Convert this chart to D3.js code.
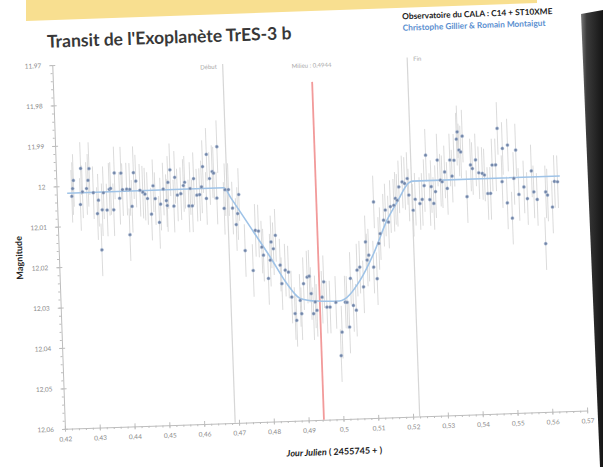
<!DOCTYPE html>
<html>
<head>
<meta charset="utf-8">
<script src="https://cdn.jsdelivr.net/npm/d3@7"></script>
<style>
  html, body { margin: 0; padding: 0; background: #ffffff; }
  svg { display: block; }
</style>
</head>
<body>
<svg id="chart" width="603" height="467"></svg>
<script>
// Observation times (JD - 2455745)
const times = [
  0.4243, 0.4246, 0.4249, 0.4267, 0.4271, 0.4274, 0.4286, 0.4291, 0.4295, 0.4305,
  0.4315, 0.4319, 0.4324, 0.4329, 0.4334, 0.4343, 0.4351, 0.4355, 0.4362, 0.4367,
  0.4380, 0.4386, 0.4389, 0.4401, 0.4406, 0.4410, 0.4415, 0.4422, 0.4428, 0.4439,
  0.4447, 0.4453, 0.4460, 0.4470, 0.4477, 0.4482, 0.4492, 0.4497, 0.4506, 0.4514,
  0.4516, 0.4520, 0.4527, 0.4535, 0.4540, 0.4546, 0.4556, 0.4564, 0.4568, 0.4578,
  0.4583, 0.4588, 0.4594, 0.4602, 0.4610, 0.4616, 0.4621, 0.4629, 0.4633, 0.4640,
  0.4648, 0.4652, 0.4659, 0.4664, 0.4679, 0.4683, 0.4693, 0.4703, 0.4712, 0.4717,
  0.4722, 0.4735, 0.4756, 0.4766, 0.4775, 0.4783, 0.4787, 0.4799, 0.4806, 0.4810,
  0.4816, 0.4823, 0.4834, 0.4837, 0.4848, 0.4857, 0.4864, 0.4872, 0.4876, 0.4888,
  0.4891, 0.4899, 0.4910, 0.4916, 0.4920, 0.4925, 0.4931, 0.4935, 0.4951, 0.4957,
  0.4964, 0.4973, 0.4990, 0.5000, 0.5005, 0.5017, 0.5022, 0.5027, 0.5034, 0.5040,
  0.5048, 0.5054, 0.5062, 0.5071, 0.5081, 0.5084, 0.5089, 0.5102, 0.5108, 0.5111,
  0.5119, 0.5124, 0.5135, 0.5141, 0.5149, 0.5156, 0.5166, 0.5171, 0.5176, 0.5182,
  0.5192, 0.5199, 0.5207, 0.5210, 0.5221, 0.5228, 0.5241, 0.5248, 0.5255, 0.5262,
  0.5270, 0.5275, 0.5281, 0.5287, 0.5295, 0.5302, 0.5307, 0.5315, 0.5321, 0.5331,
  0.5336, 0.5343, 0.5352, 0.5355, 0.5358, 0.5363, 0.5369, 0.5377, 0.5390, 0.5395,
  0.5405, 0.5413, 0.5423, 0.5429, 0.5437, 0.5445, 0.5452, 0.5462, 0.5470, 0.5479,
  0.5483, 0.5492, 0.5498, 0.5505, 0.5513, 0.5521, 0.5526, 0.5541, 0.5550, 0.5564,
  0.5569, 0.5578, 0.5598, 0.5603, 0.5608, 0.5621, 0.5629, 0.5638
];

// Measured magnitudes
const mags = [
  12.0026, 12.0007, 11.9987, 12.0047, 11.9958, 12.0016, 12.0008, 11.9988, 11.9959, 12.0019,
  12.0071, 12.0038, 12.0161, 12.0062, 12.0020, 12.0063, 12.0012, 12.0010, 12.0063, 11.9972,
  12.0035, 11.9973, 12.0014, 12.0013, 12.0126, 12.0014, 12.0056, 11.9973, 11.9994, 12.0017,
  12.0022, 12.0027, 12.0038, 12.0077, 12.0007, 12.0039, 12.0098, 12.0053, 12.0016, 12.0045,
  12.0057, 12.0000, 11.9969, 12.0059, 11.9988, 12.0032, 12.0029, 12.0009, 12.0001, 12.0060,
  12.0017, 12.0060, 11.9993, 12.0034, 12.0033, 12.0014, 11.9964, 12.0043, 11.9934, 11.9994,
  11.9977, 11.9981, 12.0043, 11.9916, 12.0069, 12.0023, 12.0023, 12.0069, 12.0110, 12.0083,
  12.0036, 12.0175, 12.0225, 12.0126, 12.0128, 12.0168, 12.0188, 12.0246, 12.0201, 12.0156,
  12.0173, 12.0140, 12.0214, 12.0260, 12.0227, 12.0232, 12.0294, 12.0335, 12.0352, 12.0303,
  12.0336, 12.0262, 12.0246, 12.0244, 12.0287, 12.0337, 12.0308, 12.0329, 12.0297, 12.0259,
  12.0322, 12.0322, 12.0311, 12.0443, 12.0385, 12.0311, 12.0312, 12.0373, 12.0253, 12.0320,
  12.0332, 12.0233, 12.0226, 12.0275, 12.0164, 12.0209, 12.0197, 12.0227, 12.0066, 12.0256,
  12.0169, 12.0145, 12.0112, 12.0087, 12.0117, 12.0079, 12.0076, 12.0059, 12.0064, 12.0031,
  12.0019, 12.0023, 12.0011, 12.0052, 12.0090, 12.0063, 12.0074, 12.0064, 12.0030, 11.9955,
  12.0065, 12.0033, 12.0075, 12.0046, 11.9968, 12.0018, 12.0022, 11.9998, 12.0039, 11.9969,
  12.0009, 11.9970, 11.9918, 11.9900, 11.9945, 11.9950, 11.9911, 12.0061, 11.9983, 11.9992,
  11.9971, 12.0003, 12.0005, 12.0009, 12.0055, 12.0055, 11.9985, 11.9985, 11.9895, 12.0027,
  11.9945, 12.0080, 11.9937, 12.0118, 12.0020, 11.9950, 12.0060, 12.0042, 12.0071, 12.0003,
  12.0055, 12.0074, 12.0184, 12.0056, 12.0064, 12.0094, 12.0031, 12.0032
];

// Photometric uncertainty on each measurement (mag)
const magError = 0.0065;

// Transit model curve (read at its turning points)
const fitTimes = [0.4230, 0.4680, 0.4700, 0.4761, 0.4806, 0.4851, 0.4888, 0.4936, 0.5000,
                  0.5062, 0.5103, 0.5145, 0.5176, 0.5211, 0.5222, 0.5645];
const fitMags  = [12.0018, 12.0018, 12.0045, 12.0130, 12.0193, 12.0260, 12.0298, 12.0306, 12.0308,
                  12.0258, 12.0194, 12.0112, 12.0068, 12.0022, 12.0018, 12.0018];

// Contact markers
const markerNames = ["Début", "Milieu : 0,4944", "Fin"];
const markerTimes = [0.4689, 0.4944, 0.5219];

// Axes
const xTicks = [0.42, 0.43, 0.44, 0.45, 0.46, 0.47, 0.48, 0.49, 0.50, 0.51, 0.52, 0.53, 0.54, 0.55, 0.56, 0.57];
const xTickLabels = ["0,42", "0,43", "0,44", "0,45", "0,46", "0,47", "0,48", "0,49", "0,5", "0,51", "0,52", "0,53", "0,54", "0,55", "0,56", "0,57"];
const yTicks = [11.97, 11.98, 11.99, 12.00, 12.01, 12.02, 12.03, 12.04, 12.05, 12.06];
const yTickLabels = ["11,97", "11,98", "11,99", "12", "12,01", "12,02", "12,03", "12,04", "12,05", "12,06"];

const titleText = "Transit de l'Exoplanète TrES-3 b";
const creditLine1 = "Observatoire du CALA : C14 + ST10XME";
const creditLine2 = "Christophe Gillier & Romain Montaigut";
const xTitle = "Jour Julien ( 2455745 + )";
const yTitle = "Magnitude";

const FONT = "Lato, 'Open Sans', sans-serif";
const svg = d3.select("#chart");

// printed sheet backdrop
const defs = svg.append("defs");
const grad = defs.append("linearGradient").attr("id", "edgeShade")
  .attr("gradientUnits", "userSpaceOnUse").attr("x1", 578).attr("y1", 0).attr("x2", 603).attr("y2", 0);
grad.append("stop").attr("offset", 0).attr("stop-color", "#9a9a9a");
grad.append("stop").attr("offset", 0.35).attr("stop-color", "#3a3a3a");
grad.append("stop").attr("offset", 1).attr("stop-color", "#151515");

svg.append("rect").attr("width", 603).attr("height", 467).attr("fill", "#ffffff");
svg.append("polygon").attr("points", "26,0 537,0 537,3 26,21").attr("fill", "#f8df90");
svg.append("polygon").attr("points", "581,14 603,10 603,467 600,467").attr("fill", "url(#edgeShade)");

// chart body, slightly turned
const g = svg.append("g").attr("transform", "rotate(-2, 300, 240)");

const x = d3.scaleLinear().domain([0.42, 0.57]).range([58.5, 581]);
const y = d3.scaleLinear().domain([11.97, 12.06]).range([56.5, 420.5]);

// title and credits
g.append("text").attr("x", 54).attr("y", 39)
  .attr("font-family", FONT).attr("font-weight", 700).attr("font-size", 17.5)
  .attr("fill", "#383838").text(titleText);
g.append("text").attr("x", 410).attr("y", 23)
  .attr("font-family", FONT).attr("font-weight", 700).attr("font-size", 8.3)
  .attr("fill", "#222").text(creditLine1);
g.append("text").attr("x", 410).attr("y", 34.5)
  .attr("font-family", FONT).attr("font-weight", 700).attr("font-size", 8.3)
  .attr("fill", "#5b8fd0").text(creditLine2);

// axes
const minorX = d3.range(0.42, 0.5701, 0.002);
const minorY = d3.range(11.97, 12.0601, 0.002);

const axisColor = "#bdbdbd";
const xAxisG = g.append("g").attr("transform", `translate(0,${y(12.06)})`);
xAxisG.append("g").call(d3.axisBottom(x).tickValues(minorX).tickSize(2).tickFormat(""))
  .call(a => a.selectAll("line").attr("stroke", axisColor))
  .call(a => a.select(".domain").remove());
xAxisG.append("g").call(d3.axisBottom(x).tickValues(xTicks).tickSizeInner(3).tickSizeOuter(0).tickPadding(5)
    .tickFormat((d, i) => xTickLabels[i]))
  .call(a => a.select(".domain").attr("stroke", axisColor))
  .call(a => a.selectAll("line").attr("stroke", axisColor).attr("y1", -3))
  .call(a => a.selectAll("text").attr("font-family", FONT).attr("font-size", 6.5).attr("fill", "#8a8a8a"));

const yAxisG = g.append("g").attr("transform", `translate(${x(0.42)},0)`);
yAxisG.append("g").call(d3.axisLeft(y).tickValues(minorY).tickSize(2).tickFormat(""))
  .call(a => a.selectAll("line").attr("stroke", axisColor))
  .call(a => a.select(".domain").remove());
yAxisG.append("g").call(d3.axisLeft(y).tickValues(yTicks).tickSizeInner(3).tickSizeOuter(0).tickPadding(8)
    .tickFormat((d, i) => yTickLabels[i]))
  .call(a => a.select(".domain").attr("stroke", axisColor))
  .call(a => a.selectAll("line").attr("stroke", axisColor).attr("x1", 3))
  .call(a => a.selectAll("text").attr("font-family", FONT).attr("font-size", 6.5).attr("fill", "#8a8a8a"));

// axis titles
g.append("text").attr("x", 327).attr("y", 456).attr("text-anchor", "middle")
  .attr("font-family", FONT).attr("font-weight", 700).attr("font-size", 9).attr("fill", "#222")
  .call(t => {
    t.append("tspan").attr("font-style", "italic").text(xTitle.slice(0, 11));
    t.append("tspan").text(xTitle.slice(11));
  });
g.append("text").attr("transform", "translate(22,248) rotate(-90)").attr("text-anchor", "middle")
  .attr("font-family", FONT).attr("font-weight", 700).attr("font-size", 9).attr("fill", "#222")
  .text(yTitle);

// contact markers
const markerColors = ["#d6d6d6", "#f29a9a", "#d6d6d6"];
const markerTops = [11.9712, 11.9764, 11.9712];
markerTimes.forEach((t, i) => {
  g.append("line").attr("x1", x(t)).attr("x2", x(t))
    .attr("y1", y(markerTops[i])).attr("y2", y(12.06))
    .attr("stroke", markerColors[i]).attr("stroke-width", i === 1 ? 1.8 : 1.2);
});
g.append("text").attr("x", x(markerTimes[0]) - 6).attr("y", 66).attr("text-anchor", "end")
  .attr("font-family", FONT).attr("font-size", 6).attr("fill", "#a8a8a8").text(markerNames[0]);
g.append("text").attr("x", x(markerTimes[1])).attr("y", 68).attr("text-anchor", "middle")
  .attr("font-family", FONT).attr("font-size", 6).attr("fill", "#a8a8a8").text(markerNames[1]);
g.append("text").attr("x", x(markerTimes[2]) + 6).attr("y", 65).attr("text-anchor", "start")
  .attr("font-family", FONT).attr("font-size", 6).attr("fill", "#a8a8a8").text(markerNames[2]);

// error bars
const pts = times.map((t, i) => ({ t, m: mags[i] }));
g.append("g").selectAll("line").data(pts).join("line")
  .attr("x1", d => x(d.t)).attr("x2", d => x(d.t))
  .attr("y1", d => y(d.m - magError)).attr("y2", d => y(d.m + magError))
  .attr("stroke", "#d3d3d3").attr("stroke-width", 0.8);

// model curve
const fitPts = fitTimes.map((t, i) => ({ t, m: fitMags[i] }));
g.append("path").datum(fitPts)
  .attr("d", d3.line().x(d => x(d.t)).y(d => y(d.m)).curve(d3.curveMonotoneX))
  .attr("fill", "none").attr("stroke", "#9fc3e7").attr("stroke-width", 1.6);

// measurements
g.append("g").selectAll("circle").data(pts).join("circle")
  .attr("cx", d => x(d.t)).attr("cy", d => y(d.m)).attr("r", 1.6)
  .attr("fill", "#7185a8").attr("stroke", "#b7c6dc").attr("stroke-width", 0.5);
</script>
</body>
</html>
